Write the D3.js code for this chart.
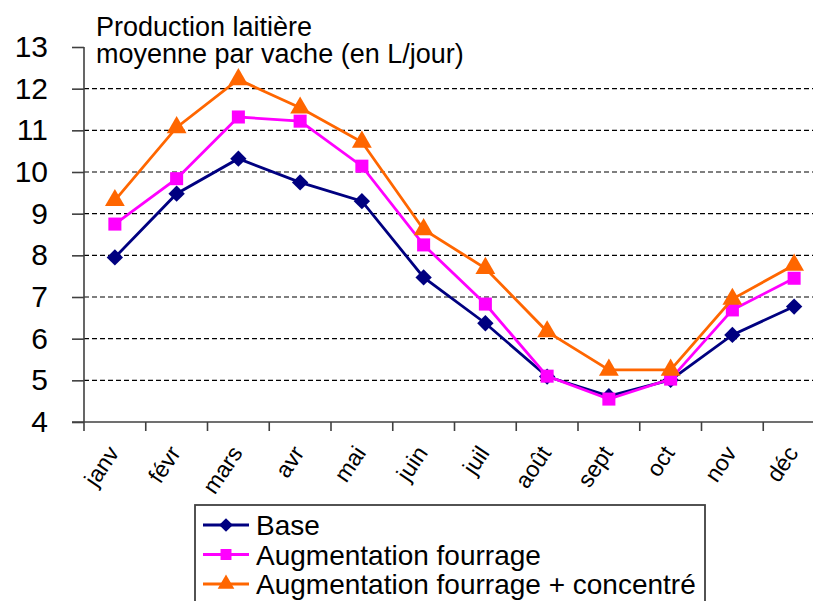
<!DOCTYPE html>
<html>
<head>
<meta charset="utf-8">
<script src="https://cdn.jsdelivr.net/npm/d3@7"></script>
<style>
  body { margin: 0; background: #fff; overflow: hidden; }
  svg { display: block; font-family: 'Liberation Sans', Arial, sans-serif; }
</style>
</head>
<body>
<svg id="chart" width="813" height="601"></svg>
<script>
const months = ['janv', 'févr', 'mars', 'avr', 'mai', 'juin', 'juil', 'août', 'sept', 'oct', 'nov', 'déc']
const base = [7.95, 9.48, 10.32, 9.75, 9.3, 7.47, 6.37, 5.09, 4.62, 5.01, 6.09, 6.77]
const fourrage = [8.75, 9.84, 11.32, 11.22, 10.14, 8.25, 6.83, 5.1, 4.55, 5.03, 6.69, 7.45]
const concentre = [9.32, 11.07, 12.22, 11.54, 10.72, 8.62, 7.69, 6.17, 5.25, 5.25, 6.95, 7.77]
const yTicks = [4, 5, 6, 7, 8, 9, 10, 11, 12, 13]

const series = [
  { name: 'Base', values: base, color: '#000080', symbol: d3.symbolDiamond2 },
  { name: 'Augmentation fourrage', values: fourrage, color: '#ff00ff', symbol: d3.symbolSquare },
  { name: 'Augmentation fourrage + concentré', values: concentre, color: '#ff6600', symbol: d3.symbolTriangle }
]

const svg = d3.select('#chart')
const plotLeft = 84, plotRight = 825, plotTop = 47, plotBottom = 422

const x = d3.scaleBand().domain(months).range([plotLeft, plotRight]).padding(0)
const y = d3.scaleLinear().domain([4, 13]).range([plotBottom, plotTop])

// gridlines
svg.append('g')
  .selectAll('line')
  .data(yTicks.filter(d => d > 4 && d < 13))
  .enter().append('line')
  .attr('x1', plotLeft).attr('x2', 813)
  .attr('y1', d => y(d)).attr('y2', d => y(d))
  .attr('stroke', '#000')
  .attr('stroke-width', 1.2)
  .attr('stroke-dasharray', '5,3')

// y axis
const yAxis = svg.append('g')
  .attr('transform', 'translate(' + plotLeft + ',0)')
  .call(d3.axisLeft(y).tickValues(yTicks).tickSize(12).tickPadding(24))
yAxis.select('.domain').attr('stroke', '#404040').attr('stroke-width', 1.6).attr('d', 'M0,' + plotTop + 'V' + plotBottom)
yAxis.selectAll('.tick line').attr('stroke', '#404040').attr('stroke-width', 1.6)
yAxis.selectAll('.tick text')
  .attr('font-size', 30)
  .attr('fill', '#000')
  .attr('font-family', "'Liberation Sans', Arial, sans-serif")

// x axis
svg.append('line')
  .attr('x1', plotLeft - 12).attr('x2', 813)
  .attr('y1', plotBottom).attr('y2', plotBottom)
  .attr('stroke', '#404040').attr('stroke-width', 1.6)
svg.append('g')
  .selectAll('line')
  .data(months)
  .enter().append('line')
  .attr('x1', d => x(d)).attr('x2', d => x(d))
  .attr('y1', plotBottom).attr('y2', plotBottom + 9)
  .attr('stroke', '#404040').attr('stroke-width', 1.6)

svg.append('g')
  .selectAll('text')
  .data(months)
  .enter().append('text')
  .attr('transform', d => 'translate(' + (x(d) + x.bandwidth() / 2 + 5) + ',' + (plotBottom + 31) + ') rotate(-56)')
  .attr('text-anchor', 'end')
  .attr('font-size', 23)
  .attr('fill', '#000')
  .text(d => d)

// title
const title = svg.append('text')
  .attr('font-size', 27)
  .attr('fill', '#000')
title.append('tspan').attr('x', 96).attr('y', 36).text('Production laitière')
title.append('tspan').attr('x', 96).attr('y', 63).text('moyenne par vache (en L/jour)')

// lines and markers
const line = d3.line()
  .x((d, i) => x(months[i]) + x.bandwidth() / 2)
  .y(d => y(d))

series.forEach(s => {
  svg.append('path')
    .datum(s.values)
    .attr('d', line)
    .attr('fill', 'none')
    .attr('stroke', s.color)
    .attr('stroke-width', 2.8)
  svg.append('g')
    .selectAll('path')
    .data(s.values)
    .enter().append('path')
    .attr('transform', (d, i) => 'translate(' + (x(months[i]) + x.bandwidth() / 2) + ',' + y(d) + ')')
    .attr('d', d3.symbol().type(s.symbol).size(170))
    .attr('fill', s.color)
})

// legend
const legend = svg.append('g')
legend.append('rect')
  .attr('x', 195).attr('y', 505)
  .attr('width', 510).attr('height', 110)
  .attr('fill', '#fff')
  .attr('stroke', '#404040')
  .attr('stroke-width', 1.8)

series.forEach((s, i) => {
  const cy = 525 + i * 29.5
  legend.append('line')
    .attr('x1', 203).attr('x2', 249)
    .attr('y1', cy).attr('y2', cy)
    .attr('stroke', s.color).attr('stroke-width', 2.8)
  legend.append('path')
    .attr('transform', 'translate(226,' + cy + ')')
    .attr('d', d3.symbol().type(s.symbol).size(120))
    .attr('fill', s.color)
  legend.append('text')
    .attr('x', 256).attr('y', cy + 10)
    .attr('font-size', 28)
    .attr('fill', '#000')
    .text(s.name)
})
</script>
</body>
</html>
